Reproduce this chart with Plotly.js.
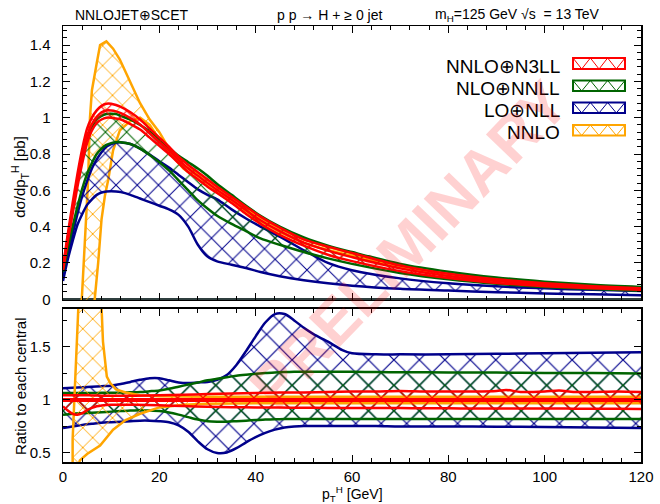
<!DOCTYPE html>
<html><head><meta charset="utf-8">
<script src="https://cdn.plot.ly/plotly-3.0.1.min.js"></script>
<style>body{margin:0;background:#fff}</style>
</head><body><div id="chart" style="width:660px;height:504px"></div>
<script>
// ---------- main panel: dσ/dpT [pb] ----------
const pT = [0,1,2,3,4,5,6,7,8,9,10,11,12,14,16,18,20,22,24,26,28,30,32,35,38,41,45,50,55,60,70,80,90,100,110,120];
const n3llUp  = [0.18,0.36,0.53,0.69,0.83,0.94,1.0,1.04,1.065,1.077,1.077,1.07,1.06,1.03,0.99,0.94,0.89,0.84,0.785,0.74,0.70,0.66,0.62,0.565,0.51,0.455,0.395,0.33,0.29,0.255,0.186,0.14,0.11,0.088,0.072,0.06];
const n3llCen = [0.17,0.34,0.50,0.655,0.79,0.90,0.965,1.005,1.03,1.04,1.04,1.035,1.025,0.998,0.962,0.915,0.867,0.82,0.768,0.72,0.68,0.64,0.602,0.548,0.49,0.435,0.375,0.312,0.268,0.232,0.17,0.128,0.1,0.08,0.066,0.056];
const n3llLo  = [0.16,0.32,0.47,0.62,0.75,0.86,0.93,0.97,0.99,1.0,1.0,0.995,0.99,0.965,0.935,0.89,0.845,0.80,0.75,0.70,0.66,0.62,0.585,0.53,0.47,0.415,0.355,0.295,0.245,0.21,0.155,0.117,0.09,0.072,0.06,0.052];
const nnllUp  = [0.17,0.34,0.50,0.65,0.78,0.88,0.95,0.99,1.01,1.02,1.022,1.02,1.01,0.99,0.96,0.925,0.88,0.835,0.79,0.755,0.72,0.68,0.635,0.575,0.515,0.46,0.40,0.34,0.295,0.26,0.195,0.152,0.12,0.097,0.08,0.068];
const nnllLo  = [0.15,0.28,0.40,0.51,0.61,0.69,0.75,0.80,0.83,0.85,0.86,0.865,0.865,0.855,0.83,0.795,0.755,0.71,0.655,0.60,0.545,0.50,0.46,0.415,0.375,0.335,0.30,0.26,0.225,0.195,0.145,0.11,0.085,0.068,0.056,0.047];
const nllUp   = [0.13,0.25,0.36,0.47,0.57,0.65,0.72,0.77,0.81,0.84,0.855,0.862,0.864,0.855,0.83,0.797,0.76,0.725,0.685,0.645,0.605,0.575,0.55,0.495,0.445,0.40,0.345,0.27,0.20,0.16,0.115,0.088,0.071,0.06,0.052,0.046];
const nllLo   = [0.10,0.22,0.32,0.41,0.47,0.52,0.55,0.575,0.588,0.594,0.595,0.594,0.59,0.575,0.555,0.535,0.515,0.495,0.465,0.40,0.30,0.235,0.209,0.19,0.172,0.15,0.127,0.105,0.088,0.075,0.058,0.048,0.039,0.032,0.027,0.022];
// NNLO (fixed order) band
const nnloUpX = [3,3.9,4.6,5.2,5.6,6.0,7.0,7.7,9.0,10.4,11.8,13.9,16,18,20,22,25,28,30,35,40,45,50,55,60,70,80,90,100,110,120];
const nnloUp  = [-0.3,0,0.35,0.65,1.0,1.15,1.3,1.40,1.42,1.38,1.32,1.2,1.08,0.99,0.92,0.83,0.74,0.69,0.655,0.56,0.465,0.388,0.328,0.288,0.254,0.185,0.139,0.109,0.087,0.071,0.059];
const nnloLoX = [3,5,6.6,7.3,8.0,8.7,9.4,10.4,11.8,13.9,16,18,20,22,25,28,30,35,40,45,50,55,60,70,80,90,100,110,120];
const nnloLo  = [-1.0,-0.45,0,0.2,0.44,0.57,0.66,0.82,0.93,0.98,1.0,0.96,0.88,0.81,0.72,0.66,0.625,0.535,0.445,0.37,0.31,0.27,0.24,0.175,0.131,0.103,0.082,0.067,0.056];

// ---------- ratio panel ----------
const rp = [0,2,4,6,8,10,12,14,16,18,20,22,24,26,28,30,32,34,36,38,40,42,44,46,48,50,52,55,58,60,65,70,80,90,100,110,120];
const rNllUp  = [1.11,1.115,1.12,1.125,1.13,1.135,1.15,1.17,1.19,1.205,1.205,1.185,1.165,1.16,1.165,1.17,1.19,1.235,1.33,1.46,1.6,1.73,1.81,1.81,1.75,1.68,1.62,1.55,1.47,1.44,1.43,1.43,1.43,1.435,1.44,1.445,1.45];
const rNllLo  = [0.735,0.75,0.765,0.775,0.785,0.79,0.795,0.8,0.805,0.805,0.8,0.79,0.76,0.70,0.61,0.535,0.5,0.505,0.545,0.6,0.65,0.69,0.72,0.74,0.75,0.755,0.755,0.755,0.755,0.755,0.755,0.75,0.75,0.748,0.745,0.74,0.735];
const rNnllUp = [1.065,1.065,1.065,1.066,1.067,1.068,1.07,1.072,1.075,1.082,1.09,1.105,1.125,1.145,1.165,1.185,1.2,1.215,1.228,1.238,1.247,1.254,1.26,1.263,1.265,1.265,1.265,1.265,1.265,1.265,1.263,1.262,1.26,1.258,1.255,1.253,1.25];
const rNnllLo = [0.86,0.87,0.875,0.88,0.885,0.89,0.895,0.9,0.903,0.9,0.895,0.882,0.862,0.838,0.815,0.8,0.795,0.795,0.8,0.805,0.81,0.815,0.818,0.82,0.82,0.82,0.82,0.82,0.82,0.82,0.82,0.82,0.82,0.82,0.82,0.82,0.82];
const rpRed = [0,1,2,3,4,5,6,7,8,10,15,20,25,30,35,40,45,50,55,60,65,70,75,80,85,90,92,95,100,103,106,110,115,120];
const rN3llUp = [1.045,1.045,1.045,1.045,1.045,1.045,1.043,1.042,1.04,1.04,1.04,1.045,1.05,1.055,1.06,1.065,1.07,1.07,1.075,1.08,1.08,1.085,1.08,1.08,1.08,1.085,1.095,1.075,1.08,1.09,1.075,1.075,1.08,1.075];
const rN3llLo = [0.94,0.9,0.868,0.86,0.875,0.905,0.925,0.94,0.948,0.955,0.955,0.95,0.942,0.935,0.932,0.93,0.928,0.926,0.925,0.925,0.924,0.923,0.922,0.921,0.92,0.92,0.92,0.92,0.92,0.919,0.918,0.917,0.916,0.915];
const rCenX = [0,120];
const rCen  = [1,1];
const rNnloUpX = [2,2,3.5,7.7,8.3,9.1,9.8,11,13,16,20,25,30,40,50,60,70,80,90,100,110,120];
const rNnloUp  = [0.2,0.63,2.2,2.2,1.55,1.22,1.16,1.1,1.07,1.045,1.035,1.03,1.03,1.03,1.03,1.03,1.035,1.03,1.035,1.03,1.03,1.03];
const rNnloLoX = [2,3.5,5,7.7,10.4,13,16,20,25,30,40,50,60,70,80,90,100,110,120];
const rNnloLo  = [0.2,0.43,0.49,0.57,0.72,0.81,0.87,0.93,0.955,0.965,0.97,0.97,0.97,0.968,0.97,0.968,0.97,0.97,0.97];

const legendNames = ['NNLO⊕N3LL','NLO⊕NNLL','LO⊕NLL','NNLO'];
const RED='#ff0000', GREEN='#006400', BLUE='#00008b', ORANGE='#ffa500';
const FONT = 'Liberation Sans, Arial, Helvetica, sans-serif';

function band(x1, lo, x2, up, color, xa, ya, psize, shape) {
  const line = {color: color, width: 2.5, shape: shape, smoothing: 0.8};
  return [
    {x: x1, y: lo, xaxis: xa, yaxis: ya, type: 'scatter', mode: 'lines', line: line, showlegend: false, hoverinfo: 'skip'},
    {x: x2, y: up, xaxis: xa, yaxis: ya, type: 'scatter', mode: 'lines', line: line, showlegend: false, hoverinfo: 'skip',
     fill: 'tonexty', fillcolor: 'rgba(0,0,0,0)',
     fillpattern: {shape: 'x', fgcolor: color, bgcolor: 'rgba(0,0,0,0)', fillmode: 'replace', size: psize, solidity: 0.13}}
  ];
}

const traces = [].concat(
  band(nnloLoX, nnloLo, nnloUpX, nnloUp, ORANGE, 'x', 'y', 14, 'linear'),
  band(pT, nllLo, pT, nllUp, BLUE, 'x', 'y', 15, 'spline'),
  band(pT, nnllLo, pT, nnllUp, GREEN, 'x', 'y', 15, 'spline'),
  band(pT, n3llLo, pT, n3llUp, RED, 'x', 'y', 15, 'spline'),
  [{x: pT, y: n3llCen, xaxis: 'x', yaxis: 'y', type: 'scatter', mode: 'lines', line: {color: RED, width: 2.5, shape: 'spline'}, showlegend: false, hoverinfo: 'skip'}],
  band(rp, rNllLo, rp, rNllUp, BLUE, 'x2', 'y2', 18, 'spline'),
  band(rp, rNnllLo, rp, rNnllUp, GREEN, 'x2', 'y2', 18, 'spline'),
  band(rNnloLoX, rNnloLo, rNnloUpX, rNnloUp, ORANGE, 'x2', 'y2', 14, 'linear'),
  band(rpRed, rN3llLo, rpRed, rN3llUp, RED, 'x2', 'y2', 18, 'spline'),
  [{x: rCenX, y: rCen, xaxis: 'x2', yaxis: 'y2', type: 'scatter', mode: 'lines', line: {color: RED, width: 4}, showlegend: false, hoverinfo: 'skip'}]
);

const axBase = {showgrid: false, zeroline: false, showline: true, mirror: 'ticks', linecolor: '#000', linewidth: 1.5,
  ticks: 'inside', ticklen: 7, tickwidth: 1, tickcolor: '#000', tickfont: {family: FONT, size: 15, color: '#000'}};

// legend swatches (paper coordinates)
const swX0 = 0.8824, swX1 = 0.9723;
const swRows = [[0.9014,0.9266,RED],[0.8509,0.8750,GREEN],[0.8005,0.8245,BLUE],[0.7489,0.7729,ORANGE]];
const shapes = [];
swRows.forEach(function(r){
  shapes.push({type:'rect', xref:'paper', yref:'paper', x0:swX0, x1:swX1, y0:r[0], y1:r[1], line:{color:r[2], width:2}, fillcolor:'rgba(0,0,0,0)'});
  let p = 'M' + swX0 + ',' + r[1];
  const n = 6;
  for (let i = 1; i <= n; i++) {
    const xx = swX0 + (swX1 - swX0) * i / n;
    p += ' L' + xx.toFixed(4) + ',' + (i % 2 ? r[0] : r[1]);
  }
  shapes.push({type:'path', xref:'paper', yref:'paper', path:p, line:{color:r[2], width:1}});
});

const legY = [0.9076, 0.8571, 0.8057, 0.7553];
const annotations = [
  {text:'NNLOJET⊕SCET', x:0.0173, y:1.0252, xanchor:'left', yanchor:'middle'},
  {text:'p p → H + ≥ 0 jet', x:0.3668, y:1.0252, xanchor:'left', yanchor:'middle'},
  {text:'m<sub>H</sub>=125 GeV √s \u00a0= 13 TeV', x:0.640, y:1.0252, xanchor:'left', yanchor:'middle'},
  {text:'dσ/dp<sub>T</sub><sup>H</sup> [pb]', x:-0.0744, y:0.654, textangle:-90, xanchor:'center', yanchor:'middle'},
  {text:'Ratio to each central', x:-0.0735, y:0.173, textangle:-90, xanchor:'center', yanchor:'middle'},
  {text:'p<sub>T</sub><sup>H</sup> [GeV]', x:0.5, y:-0.074, xanchor:'center', yanchor:'middle'}
].map(function(a){ return Object.assign({xref:'paper', yref:'paper', showarrow:false, font:{family:FONT, size: (a.textangle ? 15 : 14), color:'#000'}}, a); });
legendNames.forEach(function(nm, i){
  annotations.push({text:nm, x:0.8633, y:legY[i], xref:'paper', yref:'paper', xanchor:'right', yanchor:'middle', showarrow:false, font:{family:FONT, size:19, color:'#000'}});
});
annotations.push({text:'PRELIMINARY', x:0.598, y:0.5, xref:'paper', yref:'paper', xanchor:'center', yanchor:'middle', textangle:-46, showarrow:false,
  font:{family:FONT, size:62, weight:700, color:'rgba(255,0,0,0.18)'}});

const layout = {
  width: 660, height: 504,
  margin: {l:63, r:19, t:26, b:42},
  paper_bgcolor: '#fff', plot_bgcolor: '#fff',
  showlegend: false,
  xaxis: Object.assign({}, axBase, {domain:[0,1], anchor:'y', range:[0,120], dtick:20, showticklabels:false,
    minor:{dtick:4, ticklen:4, ticks:'inside', tickcolor:'#000'}}),
  yaxis: Object.assign({}, axBase, {domain:[0.3716,1], anchor:'x', range:[-0.004,1.505], dtick:0.2, tick0:0, ticklabelstandoff:8,
    zeroline:true, zerolinecolor:'#2f3f3f', zerolinewidth:2,
    minor:{dtick:0.04, ticklen:4, ticks:'inside', tickcolor:'#000'}}),
  xaxis2: Object.assign({}, axBase, {domain:[0,1], anchor:'y2', range:[0,120], dtick:20, ticklabelstandoff:0,
    minor:{dtick:4, ticklen:4, ticks:'inside', tickcolor:'#000'}}),
  yaxis2: Object.assign({}, axBase, {domain:[0,0.351], anchor:'x2', range:[0.415,1.858], dtick:0.5, tick0:0, ticklabelstandoff:8,
    minor:{dtick:0.25, ticklen:4, ticks:'inside', tickcolor:'#000'}}),
  shapes: shapes,
  annotations: annotations
};

Plotly.newPlot('chart', traces, layout, {displayModeBar:false, staticPlot:true});
</script>
</body></html>
